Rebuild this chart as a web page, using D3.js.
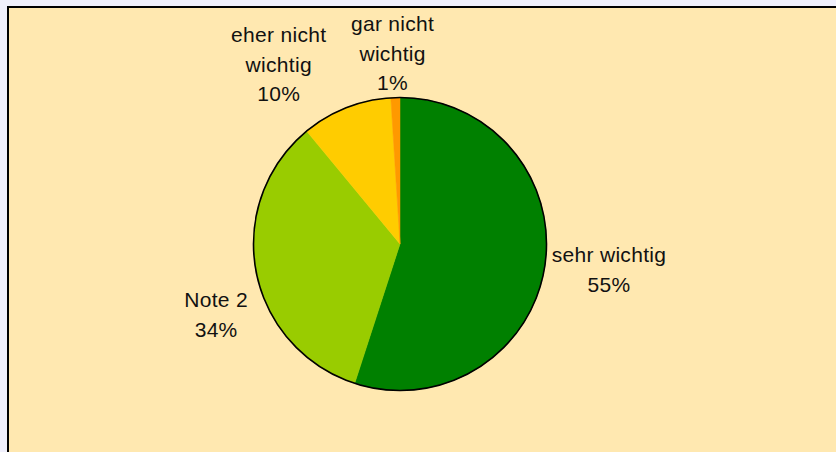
<!DOCTYPE html>
<html>
<head>
<meta charset="utf-8">
<script src="https://cdn.jsdelivr.net/npm/d3@7"></script>
<style>
  html, body { margin: 0; padding: 0; background: #f0f0fc; overflow: hidden; }
  svg { display: block; }
  .lbl { font-family: "Liberation Sans", Arial, sans-serif; font-size: 21px; letter-spacing: 0.3px; fill: #111; }
</style>
</head>
<body>
<script>
// data
var categories = ["sehr wichtig", "Note 2", "eher nicht wichtig", "gar nicht wichtig"];
var values = [55, 34, 10, 1];
var labelLines = [["sehr wichtig"], ["Note 2"], ["eher nicht", "wichtig"], ["gar nicht", "wichtig"]];
var colors = ["#008000", "#99cc00", "#ffcc00", "#ff9900"];

var svgWidth = 836,
    svgHeight = 452,
    center = { x: 400, y: 244 },
    radius = 146.5,
    lineHeight = 29.5,
    // small hand nudges so labels sit where excel put them
    labelNudge = [[7, -3], [17, 36], [-46, 5], [-1, 8]];

var svgContainer;

function init() {
    svgContainer = d3.select("body").append("svg")
        .attr("width", svgWidth)
        .attr("height", svgHeight);

    // chart area with its frame
    svgContainer.append("rect")
        .attr("x", 8)
        .attr("y", 7)
        .attr("width", svgWidth + 20)
        .attr("height", svgHeight + 20)
        .style("fill", "#ffe8b0")
        .style("stroke", "#000")
        .style("stroke-width", 2);

    drawPie();
}

function drawPie() {
    var pie = d3.pie().sort(null).value(function (d) { return d; });
    var arcs = pie(values);
    var arc = d3.arc().innerRadius(0).outerRadius(radius);

    var g = svgContainer.append("g")
        .attr("transform", "translate(" + center.x + "," + center.y + ")");

    g.selectAll("path.slice")
        .data(arcs)
        .enter()
        .append("path")
        .attr("class", "slice")
        .attr("d", arc)
        .style("fill", function (d, i) { return colors[i]; })
        .style("stroke", function (d, i) { return colors[i]; })
        .style("stroke-width", 0.5);

    // outline only round the edge
    g.append("circle")
        .attr("r", radius)
        .style("fill", "none")
        .style("stroke", "#000")
        .style("stroke-width", 1.6);

    var labelArc = d3.arc().innerRadius(radius + 8).outerRadius(radius + 8);

    arcs.forEach(function (d, i) {
        var lines = labelLines[i].concat([values[i] + "%"]);
        var p = labelArc.centroid(d);
        var mid = (d.startAngle + d.endAngle) / 2;
        var w = 100, h = lines.length * lineHeight;
        var cx = p[0] + Math.sin(mid) * w / 2 + labelNudge[i][0];
        var cy = p[1] - Math.cos(mid) * h / 2 + labelNudge[i][1];
        var text = g.append("text")
            .attr("class", "lbl")
            .attr("text-anchor", "middle")
            .attr("x", cx)
            .attr("y", cy - h / 2 + lineHeight * 0.75);
        lines.forEach(function (line, k) {
            text.append("tspan")
                .attr("x", cx)
                .attr("dy", k === 0 ? 0 : lineHeight)
                .text(line);
        });
    });
}

init();
</script>
</body>
</html>
